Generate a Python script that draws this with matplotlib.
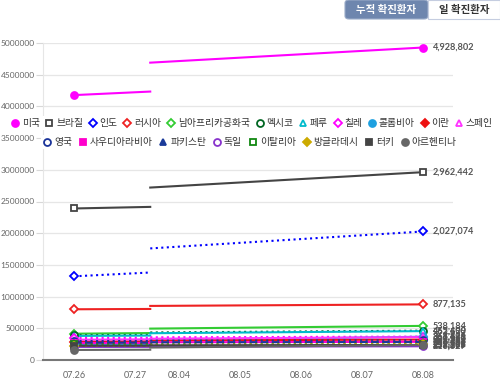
import matplotlib
matplotlib.use("Agg")
import matplotlib.pyplot as plt
import matplotlib.patches as patches
from matplotlib.lines import Line2D

plt.rcParams['font.family'] = ['Noto Sans CJK KR', 'DejaVu Sans']

# x-axis categories (Highcharts-like uneven layout: positions in category units)
dates = ['07.26', '07.27', '08.04', '08.05', '08.06', '08.07', '08.08']
date_x = [0, 1, 1.72, 2.72, 3.72, 4.72, 5.72]
break_x = 1.25

countries = ['미국', '브라질', '인도', '러시아', '남아프리카공화국', '멕시코', '페루', '칠레',
             '콜롬비아', '이란', '스페인', '영국', '사우디아라비아', '파키스탄', '독일',
             '이탈리아', '방글라데시', '터키', '아르헨티나']

# cumulative cases
v_0726 = [4178000, 2390000, 1320000, 800000, 415000, 390516, 379884, 345790,
          240795, 291172, 319501, 299426, 266941, 273113, 206242, 246118,
          223453, 225173, 158334]
v_0727 = [4234000, 2415000, 1380000, 805000, 425000, 395489, 384797, 347923,
          248976, 293606, 325862, 300111, 268934, 274289, 206926, 246286,
          226225, 226100, 162526]
v_0804 = [4690000, 2720000, 1760000, 853000, 495000, 434193, 422183, 357658,
          306181, 306752, 335602, 304695, 278835, 279699, 210402, 247832,
          237661, 231869, 196543]
v_0808 = [4928802, 2962442, 2027074, 877135, 538184, 462690, 455409, 368825,
          367196, 322567, 361442, 309763, 286755, 283487, 216327, 249756,
          252502, 237265, 235677]

colors = ['#ff00ff', '#444444', '#0000ff', '#ee2222', '#33cc33', '#006622', '#00bbcc',
          '#ff00ff', '#1ea0e0', '#ee1111', '#ff33ff', '#1a3399', '#ff00cc', '#1a3a99',
          '#8833cc', '#118811', '#ccaa00', '#444444', '#666666']
markers = ['o', 's', 'D', 'D', 'D', 'o', '^', 'D', 'o', 'D', '^',
           'o', 's', '^', 'o', 's', 'D', 's', 'o']
filled = [True, False, False, False, False, False, False, False, True, True, False,
          False, True, True, False, False, True, True, True]
styles = ['-', '-', ':', '-', '-', ':', '-', ':', '-', '-', '-',
          ':', '-', '--', '-', ':', ':', '-', '-']
msize = {'o': 5.0, 's': 4.2, 'D': 4.2, '^': 5.0}

fig = plt.figure(figsize=(5, 3.81), dpi=100)
ax = fig.add_axes([43 / 500, 1 - 360 / 381, 410 / 500, 317 / 381])

for i, name in enumerate(countries):
    c = colors[i]
    face = c if filled[i] else 'white'
    ms = msize[markers[i]]
    ax.plot([date_x[0], break_x], [v_0726[i], v_0727[i]], color=c, lw=1.5,
            ls=styles[i], zorder=2 + i * 0.01)
    ax.plot([break_x, date_x[-1]], [v_0804[i], v_0808[i]], color=c, lw=1.5,
            ls=styles[i], zorder=2 + i * 0.01)
    ax.plot([date_x[0], date_x[-1]], [v_0726[i], v_0808[i]], ls='none',
            marker=markers[i], ms=ms, mfc=face, mec=c, mew=1.3, zorder=3 + i * 0.01)
    ax.annotate(f'{v_0808[i]:,}', (date_x[-1], v_0808[i]), xytext=(7, 0),
                textcoords='offset points', va='center', ha='left',
                fontsize=6.6, color='#555555', family='Lato', fontweight='bold')

ax.set_xlim(-0.508, 6.213)
ax.set_ylim(0, 5000000)
ax.set_yticks(range(0, 5000001, 500000))
ax.set_yticklabels([str(v) for v in range(0, 5000001, 500000)],
                   family='Lato', fontsize=6, color='#666666')
ax.set_xticks(date_x)
ax.set_xticklabels(dates, family='Lato', fontsize=6.5, color='#666666')
ax.tick_params(axis='x', length=0, pad=8)
ax.tick_params(axis='y', length=5, color='#d8d8d8', pad=1)
ax.grid(axis='y', color='#e6e6e6', lw=0.9)
ax.set_axisbelow(True)
for s in ['top', 'right']:
    ax.spines[s].set_visible(False)
ax.spines['left'].set_color('#e6e6e6')
ax.spines['bottom'].set_color('#777777')
ax.spines['bottom'].set_linewidth(1.5)


def handle(i):
    c = colors[i]
    return Line2D([], [], ls='none', marker=markers[i], ms=msize[markers[i]],
                  mfc=c if filled[i] else 'white', mec=c, mew=1.3)


rows = [(range(0, 11), 0.504, 1 - 123 / 381, 0.6),
        (range(11, 19), 0.5, 1 - 142 / 381, 0.72)]
for idx, cx, cy, gap in rows:
    fig.legend([handle(i) for i in idx], [countries[i] for i in idx],
               loc='center', bbox_to_anchor=(cx, cy), ncol=len(idx),
               fontsize=7, handlelength=0.8, handletextpad=0.3,
               columnspacing=gap, borderpad=0.2, frameon=True,
               facecolor='white', edgecolor='none', framealpha=1,
               labelcolor='#333333')

# toggle buttons at the top
W, H = 500, 381
fig.patches.append(patches.FancyBboxPatch(
    (345 / W, 1 - 19 / H), 83 / W, 19 / H, boxstyle='round,pad=0,rounding_size=0.008',
    transform=fig.transFigure, facecolor='#6e86ae', edgecolor='#9aabc8', lw=0.8))
fig.patches.append(patches.Rectangle(
    (428 / W, 1 - 19 / H), 72 / W, 19 / H, transform=fig.transFigure,
    facecolor='white', edgecolor='#c5cde0', lw=0.8))
fig.text(386 / W, 1 - 9.5 / H, '누적 확진환자', color='white', fontsize=7.5,
         fontweight='bold', ha='center', va='center')
fig.text(464 / W, 1 - 9.5 / H, '일 확진환자', color='#333333', fontsize=7.5,
         fontweight='bold', ha='center', va='center')

fig.savefig('out.png', dpi=100)
